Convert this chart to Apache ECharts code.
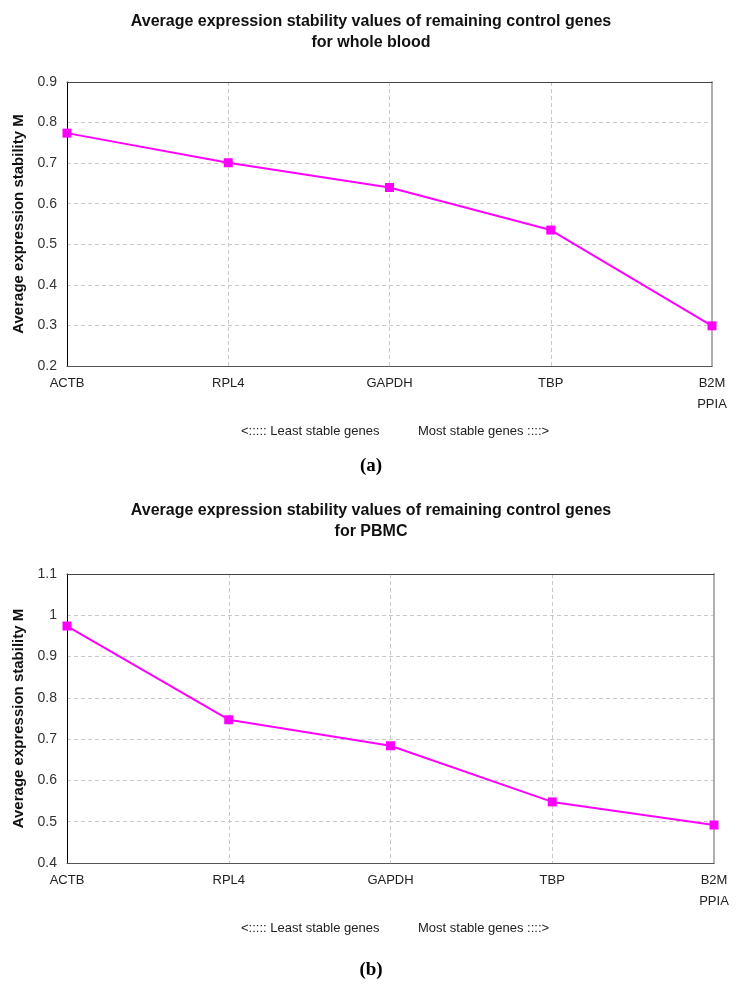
<!DOCTYPE html>
<html>
<head>
<meta charset="utf-8">
<script src="https://cdn.jsdelivr.net/npm/echarts@6/dist/echarts.min.js"></script>
<style>
html,body{margin:0;padding:0;background:#fff;}
#chart{width:742px;height:994px;}
</style>
</head>
<body>
<div id="chart"></div>
<script>
var categories = ['ACTB', 'RPL4', 'GAPDH', 'TBP', 'B2M\nPPIA'];
var wholeBlood = [0.774, 0.701, 0.640, 0.535, 0.299];
var pbmc = [0.974, 0.747, 0.684, 0.548, 0.492];
var yRangeA = [0.2, 0.9];
var yRangeB = [0.4, 1.1];
var titleA = 'Average expression stability values of remaining control genes\nfor whole blood';
var titleB = 'Average expression stability values of remaining control genes\nfor PBMC';
var yName = 'Average expression stability M';

var FONT = '"Liberation Sans", Arial, sans-serif';
var chart = echarts.init(document.getElementById('chart'), null, {renderer: 'canvas'});

function xMain(gi) {
  return {
    type: 'category', gridIndex: gi, data: categories, boundaryGap: false,
    axisLine: {lineStyle: {color: '#555', width: 1}},
    axisTick: {show: false},
    axisLabel: {color: '#222', fontFamily: FONT, fontSize: 13, margin: 14, lineHeight: 21, verticalAlign: 'top', padding: [-7,0,0,0]},
    splitLine: {show: true, lineStyle: {color: '#c8c8c8', type: [4, 3], width: 1}}
  };
}
function xTop(gi) {
  return {
    type: 'category', gridIndex: gi, data: categories, boundaryGap: false, position: 'top',
    axisLine: {lineStyle: {color: '#444', width: 1}},
    axisTick: {show: false}, axisLabel: {show: false}, splitLine: {show: false}
  };
}
function yMain(gi, r) {
  return {
    type: 'value', gridIndex: gi, min: r[0], max: r[1], interval: 0.1,
    name: yName, nameLocation: 'middle', nameGap: 38,
    nameTextStyle: {fontFamily: FONT, fontSize: 15, fontWeight: 'bold', color: '#111'},
    axisLine: {show: true, lineStyle: {color: '#000', width: 1}},
    axisTick: {show: false},
    axisLabel: {color: '#333', fontFamily: FONT, fontSize: 14, margin: 10,
      formatter: function (v) { return String(Math.round(v * 10) / 10); }},
    splitLine: {show: true, lineStyle: {color: '#c8c8c8', type: [4, 3], width: 1}}
  };
}
function yRight(gi, r) {
  return {
    type: 'value', gridIndex: gi, min: r[0], max: r[1], interval: 0.1, position: 'right',
    axisLine: {show: true, lineStyle: {color: '#b0b0b0', width: 2}},
    axisTick: {show: false}, axisLabel: {show: false}, splitLine: {show: false}
  };
}
function seriesOf(data, xi, yi) {
  return {
    type: 'line', data: data, xAxisIndex: xi, yAxisIndex: yi,
    symbol: 'rect', symbolSize: 9, showSymbol: true,
    lineStyle: {color: '#ff00ff', width: 2},
    itemStyle: {color: '#ff00ff'},
    clip: false, animation: false
  };
}

var titleStyle = {fontFamily: FONT, fontSize: 16, fontWeight: 'bold', color: '#111', lineHeight: 21};
var noteStyle = {fontFamily: FONT, fontSize: 13, fontWeight: 'normal', color: '#222'};
var letterStyle = {fontFamily: '"Liberation Serif", "Times New Roman", serif', fontSize: 19, fontWeight: 'bold', color: '#000'};

chart.setOption({
  backgroundColor: '#fff',
  animation: false,
  title: [
    {text: titleA, left: 'center', top: 6, textStyle: titleStyle},
    {text: '<::::: Least stable genes', left: 236, top: 420, textStyle: noteStyle},
    {text: 'Most stable genes ::::>', left: 413, top: 420, textStyle: noteStyle},
    {text: '(a)', left: 'center', top: 452, textStyle: letterStyle},
    {text: titleB, left: 'center', top: 495, textStyle: titleStyle},
    {text: '<::::: Least stable genes', left: 236, top: 917, textStyle: noteStyle},
    {text: 'Most stable genes ::::>', left: 413, top: 917, textStyle: noteStyle},
    {text: '(b)', left: 'center', top: 956, textStyle: letterStyle}
  ],
  grid: [
    {left: 67, right: 30, top: 82, height: 284},
    {left: 67, right: 28, top: 574, height: 289}
  ],
  xAxis: [xMain(0), xTop(0), xMain(1), xTop(1)],
  yAxis: [yMain(0, yRangeA), yRight(0, yRangeA), yMain(1, yRangeB), yRight(1, yRangeB)],
  series: [seriesOf(wholeBlood, 0, 0), seriesOf(pbmc, 2, 2)]
});
</script>
</body>
</html>
